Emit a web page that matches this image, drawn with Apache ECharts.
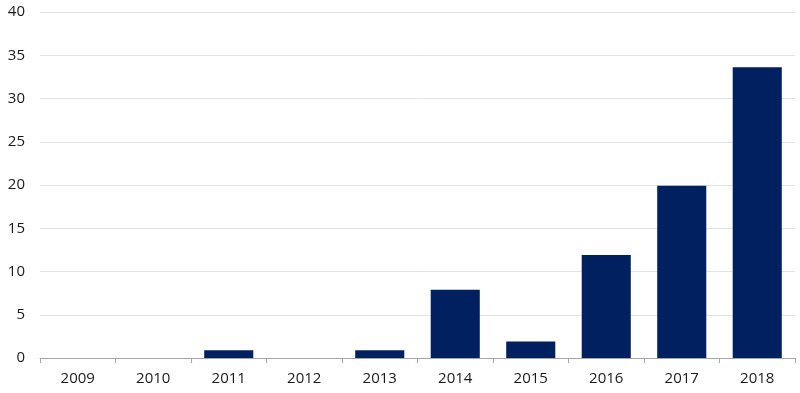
<!DOCTYPE html>
<html>
<head>
<meta charset="utf-8">
<script src="https://cdn.jsdelivr.net/npm/echarts@6/dist/echarts.min.js"></script>
<style>html,body{margin:0;padding:0;background:#fff;}#c{width:800px;height:393px;}</style>
</head>
<body>
<div id="c"></div>
<script>
var categories = ['2009','2010','2011','2012','2013','2014','2015','2016','2017','2018'];
var values = [0, 0, 0.9, 0, 0.9, 7.9, 1.9, 11.9, 19.9, 33.6];
var yTicks = { min: 0, max: 40, interval: 5 };

var chart = echarts.init(document.getElementById('c'), null, { renderer: 'canvas' });
chart.setOption({
  animation: false,
  grid: { left: 40, right: 5, top: 12, bottom: 35, containLabel: false },
  xAxis: {
    type: 'category',
    data: categories,
    boundaryGap: true,
    axisLine: { show: true, lineStyle: { color: '#a6a6a6', width: 1 } },
    axisTick: { show: true, alignWithLabel: false, length: 5, lineStyle: { color: '#a6a6a6' } },
    axisLabel: { color: '#1a1a1a', fontFamily: 'Open Sans', fontSize: 15, margin: 13 }
  },
  yAxis: {
    type: 'value',
    min: yTicks.min, max: yTicks.max, interval: yTicks.interval,
    axisLine: { show: false },
    axisTick: { show: false },
    axisLabel: { color: '#1a1a1a', fontFamily: 'Open Sans', fontSize: 15, margin: 15 },
    splitLine: { show: true, lineStyle: { color: '#e3e3e3', width: 1 } }
  },
  series: [{
    type: 'bar',
    data: values,
    barWidth: '65%',
    itemStyle: { color: '#00205f' }
  }]
});
</script>
</body>
</html>
